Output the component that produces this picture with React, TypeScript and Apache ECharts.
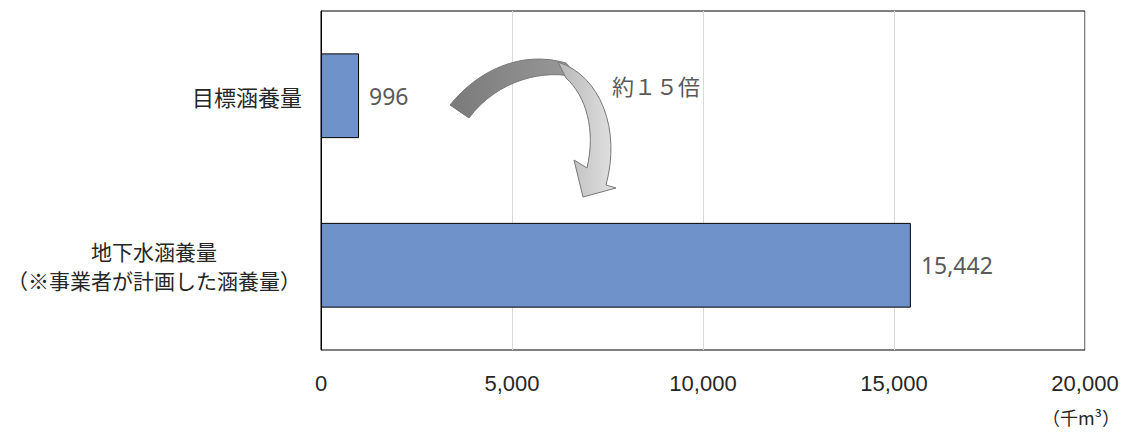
import React, { useEffect, useRef } from "react";
import * as echarts from "echarts";

const categories = ["目標涵養量", "地下水涵養量\n（※事業者が計画した涵養量）"];
const values = [996, 15442];
const xTicks = { min: 0, max: 20000, interval: 5000 };
const unitLabel = "（千m³）";
const ratioLabel = "約１５倍";

const FONT = "'Noto Sans CJK JP', 'Noto Sans', sans-serif";
const NUM_FONT = "'Liberation Sans', Arial, sans-serif";

const darkPath =
  "M 450 105 C 478 70 522 50 566 63 L 579 78 C 545 68 497 80 469 118 Z";
const lightPath =
  "M 558 62 C 601 76 621 130 606 185 L 616 188 L 583 197 L 574 160 L 587 168 C 596 130 586 96 566 78 Z";

let registered = false;
function registerShapes() {
  if (registered) return;
  echarts.graphic.registerShape("arrowDark", echarts.graphic.extendPath(darkPath, {}));
  echarts.graphic.registerShape("arrowLight", echarts.graphic.extendPath(lightPath, {}));
  registered = true;
}

export default function App() {
  const ref = useRef<HTMLDivElement>(null);
  useEffect(() => {
    if (!ref.current) return;
    registerShapes();
    const chart = echarts.init(ref.current, null, { renderer: "svg" });
    chart.setOption({
      animation: false,
      textStyle: { fontFamily: FONT },
      grid: {
        left: 321,
        right: 40,
        top: 11,
        bottom: 82,
        show: true,
        borderColor: "#000",
        borderWidth: 1,
        containLabel: false,
      },
      xAxis: {
        type: "value",
        min: xTicks.min,
        max: xTicks.max,
        interval: xTicks.interval,
        axisLine: { show: false },
        axisTick: { show: false },
        splitLine: { show: true, lineStyle: { color: "#d9d9d9", width: 1 } },
        axisLabel: {
          margin: 22,
          color: "#262626",
          fontSize: 22,
          fontFamily: NUM_FONT,
          formatter: (v: number) => v.toLocaleString("en-US"),
        },
      },
      yAxis: {
        type: "category",
        data: categories,
        inverse: true,
        axisLine: { show: true, lineStyle: { color: "#000", width: 1 } },
        axisTick: { show: false },
        axisLabel: {
          margin: 19,
          color: "#262626",
          fontSize: 22,
          fontFamily: FONT,
          align: "right",
          formatter: (v: string) => {
            if (v.indexOf("\n") >= 0) {
              return v
                .split("\n")
                .map((l) => "{c|" + l + "}")
                .join("\n");
            }
            return v;
          },
          rich: {
            c: {
              width: 296,
              align: "center",
              fontSize: 21,
              color: "#262626",
              fontFamily: FONT,
              lineHeight: 29,
            },
          },
        },
      },
      series: [
        {
          type: "bar",
          data: values,
          barCategoryGap: "50%",
          itemStyle: { color: "#7092cb", borderColor: "#000", borderWidth: 1 },
          label: {
            show: true,
            position: "right",
            distance: 10,
            color: "#595959",
            fontSize: 23,
            fontFamily: "'Noto Sans', sans-serif",
            formatter: (p: any) => Number(p.value).toLocaleString("en-US"),
          },
        },
      ],
      graphic: [
        {
          type: "arrowDark",
          x: 0,
          y: 0,
          style: {
            fill: new echarts.graphic.LinearGradient(0, 0, 1, 0, [
              { offset: 0, color: "#7a7a7a" },
              { offset: 1, color: "#9a9a9a" },
            ]),
            stroke: "#7a7a7a",
            lineWidth: 1,
          },
          z: 10,
        },
        {
          type: "arrowLight",
          x: 0,
          y: 0,
          style: {
            fill: new echarts.graphic.LinearGradient(0, 0, 1, 0, [
              { offset: 0, color: "#b8b8b8" },
              { offset: 1, color: "#e2e2e2" },
            ]),
            stroke: "#777",
            lineWidth: 1,
          },
          z: 11,
        },
        {
          type: "text",
          left: 612,
          top: 74,
          style: {
            text: ratioLabel,
            fill: "#595959",
            font: "22px " + FONT,
          },
          z: 12,
        },
        {
          type: "text",
          right: 5,
          top: 408,
          style: {
            text: unitLabel,
            fill: "#262626",
            font: "18px " + FONT,
          },
          z: 12,
        },
      ],
    });
    return () => chart.dispose();
  }, []);
  return (
    <div
      ref={ref}
      style={{ position: "absolute", left: 0, top: 0, width: 1125, height: 432, background: "#fff" }}
    />
  );
}
